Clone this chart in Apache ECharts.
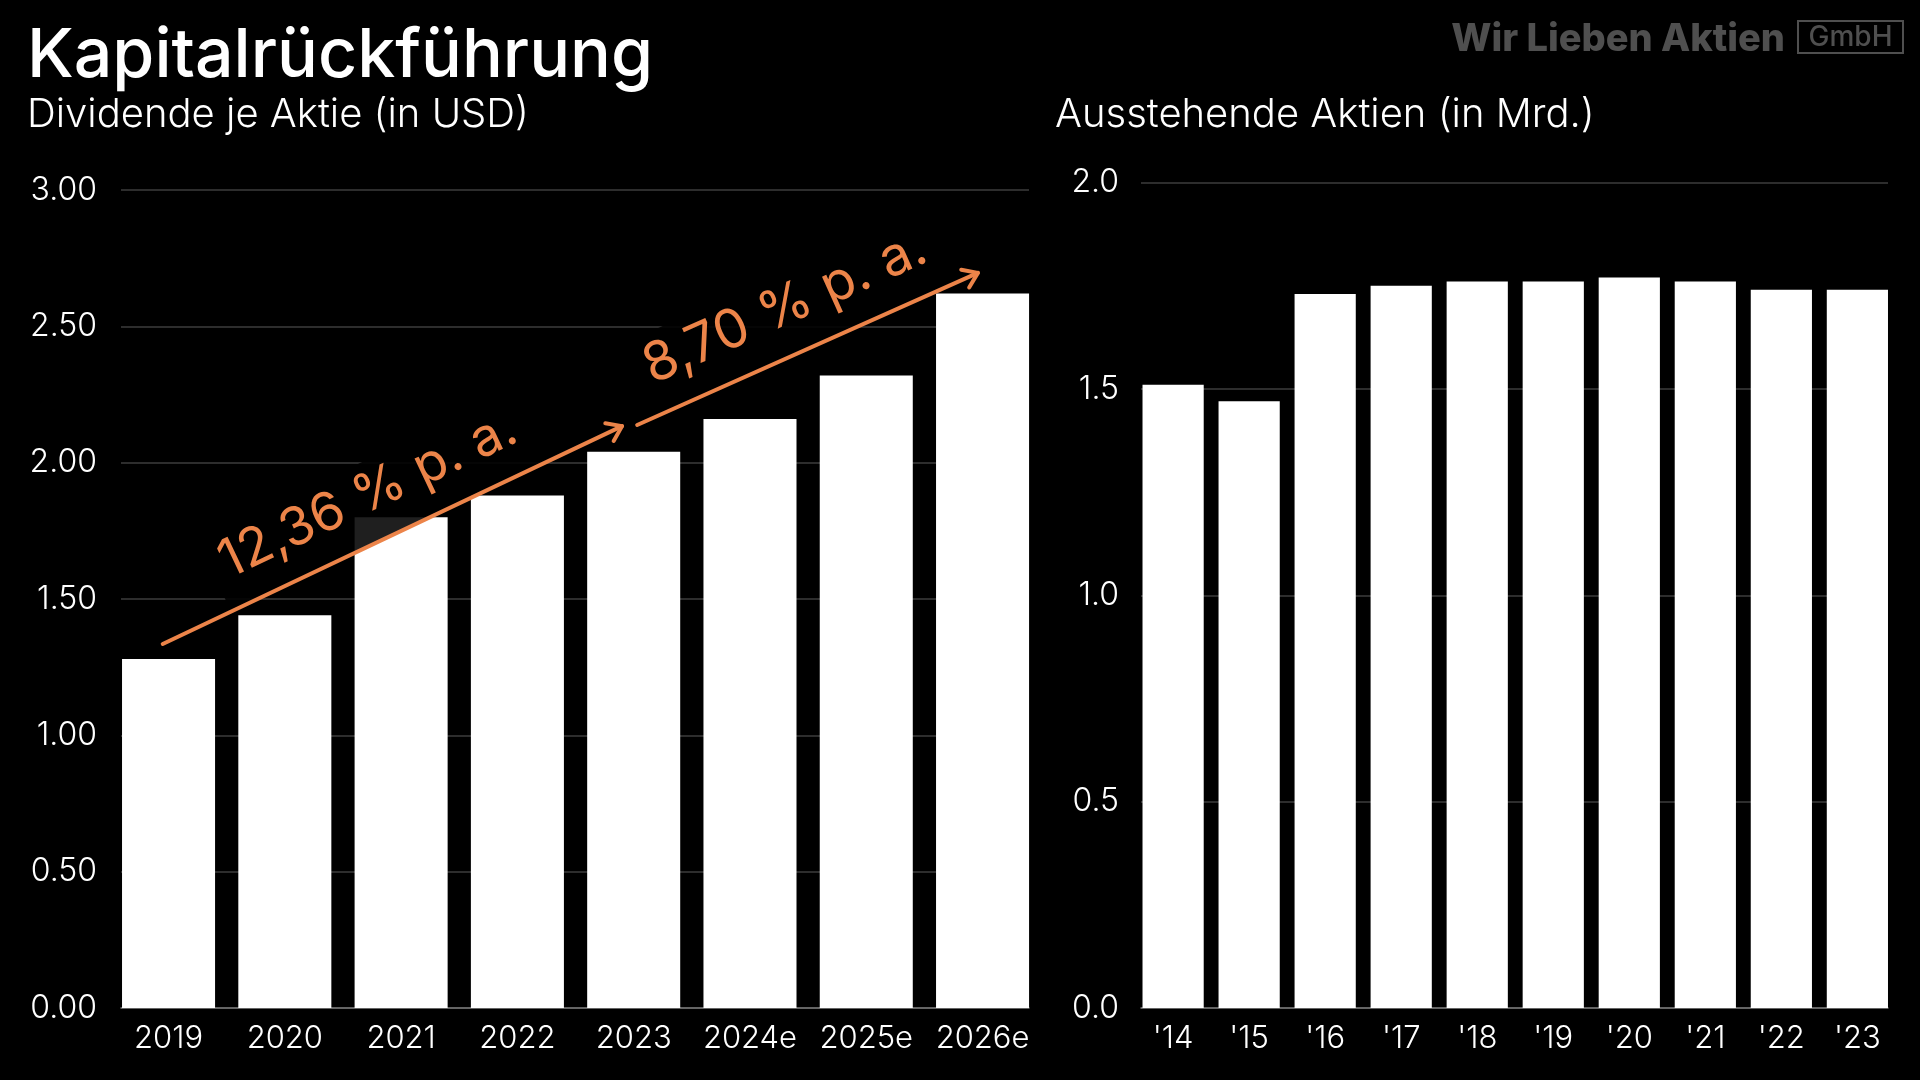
<!DOCTYPE html>
<html><head><meta charset="utf-8">
<script src="https://cdn.jsdelivr.net/npm/echarts@6/dist/echarts.min.js"></script>
<style>html,body{margin:0;padding:0;background:#000;}#c{width:1920px;height:1080px;}</style>
</head><body><div id="c"></div>
<script>
// ---- data ----
const dividendYears = ['2019','2020','2021','2022','2023','2024e','2025e','2026e'];
const dividendPerShare = [1.28,1.44,1.80,1.88,2.04,2.16,2.32,2.62];
const shareYears = ["'14","'15","'16","'17","'18","'19","'20","'21","'22","'23"];
const sharesOutstanding = [1.51,1.47,1.73,1.75,1.76,1.76,1.77,1.76,1.74,1.74];
const growthLabels = ['12,36 % p. a.','8,70 % p. a.'];
// arrow ends in data terms: [category index, offset in category widths, value]
const growthFrom = [[0,-0.05,1.335],[4,0.03,2.138]];
const growthTo   = [[4,-0.10,2.134],[7,-0.04,2.696]];

const FONT = 'Inter';
const ORANGE = '#EC8449';
const GRID_C = '#3c3c3c';
const AXIS_C = '#777';

const chart = echarts.init(document.getElementById('c'), null, {renderer:'canvas'});

const labelStyle = {color:'#fff', fontFamily:FONT, fontWeight:300};

const option = {
  backgroundColor:'#000',
  animation:false,
  grid:[
    {left:121, top:190, width:908, height:818},
    {left:110.4, top:190, width:930.3, height:818},
    {left:1141, top:182.5, width:747, height:825.5},
    {left:1135.1, top:182.5, width:760.3, height:825.5}
  ],
  xAxis:[
    {gridIndex:0, type:'category', data:dividendYears, axisTick:{show:false}, axisLabel:{show:false},
     axisLine:{lineStyle:{color:AXIS_C, width:1.5}}},
    {gridIndex:1, type:'category', data:dividendYears, axisTick:{show:false}, axisLine:{show:false},
     axisLabel:Object.assign({margin:15, interval:0, hideOverlap:false}, labelStyle, {fontSize:31})},
    {gridIndex:2, type:'category', data:shareYears, axisTick:{show:false}, axisLabel:{show:false},
     axisLine:{lineStyle:{color:AXIS_C, width:1.5}}},
    {gridIndex:3, type:'category', data:shareYears, axisTick:{show:false}, axisLine:{show:false},
     axisLabel:Object.assign({margin:15, interval:0, hideOverlap:false}, labelStyle, {fontSize:31})}
  ],
  yAxis:[
    {gridIndex:0, type:'value', min:0, max:3, interval:0.5,
     axisLabel:Object.assign({margin:24, formatter:v=>v.toFixed(2)}, labelStyle, {fontSize:32}),
     splitLine:{lineStyle:{color:GRID_C, width:1.5}}, axisLine:{show:false}, axisTick:{show:false}},
    {gridIndex:1, type:'value', min:0, max:3, interval:0.5, show:false, splitLine:{show:false}},
    {gridIndex:2, type:'value', min:0, max:2, interval:0.5,
     axisLabel:Object.assign({margin:22, formatter:v=>v.toFixed(1)}, labelStyle, {fontSize:32}),
     splitLine:{lineStyle:{color:GRID_C, width:1.5}}, axisLine:{show:false}, axisTick:{show:false}},
    {gridIndex:3, type:'value', min:0, max:2, interval:0.5, show:false, splitLine:{show:false}}
  ],
  series:[
    {type:'bar', xAxisIndex:1, yAxisIndex:1, data:dividendPerShare, barCategoryGap:'20%',
     itemStyle:{color:'#fff'}, z:5},
    {type:'bar', xAxisIndex:3, yAxisIndex:3, data:sharesOutstanding, barCategoryGap:'19.5%',
     itemStyle:{color:'#fff'}, z:5}
  ]
};
chart.setOption(option);

function toPx(p){
  const a = chart.convertToPixel({seriesIndex:0}, [p[0], p[2]]);
  const b = chart.convertToPixel({seriesIndex:0}, [p[0]+1, p[2]]);
  return [a[0] + p[1]*(b[0]-a[0]), a[1]];
}

const graphics = [
  {type:'text', x:27, y:57, z:100, style:{text:'Kapitalrückführung', fill:'#fff', fontFamily:FONT, fontWeight:500, fontSize:68, verticalAlign:'middle'}},
  {type:'text', x:27, y:114.5, z:100, style:{text:'Dividende je Aktie (in USD)', fill:'#fff', fontFamily:FONT, fontWeight:300, fontSize:40, verticalAlign:'middle'}},
  {type:'text', x:1055, y:114.5, z:100, style:{text:'Ausstehende Aktien (in Mrd.)', fill:'#fff', fontFamily:FONT, fontWeight:300, fontSize:40, verticalAlign:'middle'}},
  {type:'text', x:1785, y:40, z:100, style:{text:'Wir Lieben Aktien', fill:'#4f4f4f', fontFamily:FONT, fontWeight:800, fontSize:38, align:'right', verticalAlign:'middle'}},
  {type:'rect', z:100, shape:{x:1798, y:21, width:105, height:32}, style:{fill:'none', stroke:'#4f4f4f', lineWidth:2}},
  {type:'text', x:1850.5, y:37.5, z:100, style:{text:'GmbH', fill:'#4f4f4f', fontFamily:FONT, fontWeight:500, fontSize:28, align:'center', verticalAlign:'middle'}}
];

const labelFrac = [0.49, 0.49];
for (let i=0;i<growthLabels.length;i++){
  const s = toPx(growthFrom[i]), e = toPx(growthTo[i]);
  const dx = e[0]-s[0], dy = e[1]-s[1];
  const len = Math.hypot(dx,dy);
  const ux = dx/len, uy = dy/len;
  const ang = Math.atan2(-dy, dx);
  const ax = s[0] + dx*labelFrac[i], ay = s[1] + dy*labelFrac[i];
  graphics.push({type:'text', x:ax, y:ay, rotation:ang, z:110,
    style:{text:growthLabels[i], fill:ORANGE, fontFamily:FONT, fontWeight:400, fontSize:i===0?53:54,
      align:'center', verticalAlign:'bottom', backgroundColor:'rgba(0,0,0,0.88)', padding:[6,12,20,12]}});
  graphics.push({type:'line', z:120, shape:{x1:s[0], y1:s[1], x2:e[0], y2:e[1]},
    style:{stroke:ORANGE, lineWidth:4, lineCap:'round'}});
  const hl = 17, ha = 35*Math.PI/180;
  const bx = -ux, by = -uy;
  const l1 = [e[0] + hl*(bx*Math.cos(ha) - by*Math.sin(ha)), e[1] + hl*(bx*Math.sin(ha) + by*Math.cos(ha))];
  const l2 = [e[0] + hl*(bx*Math.cos(-ha) - by*Math.sin(-ha)), e[1] + hl*(bx*Math.sin(-ha) + by*Math.cos(-ha))];
  graphics.push({type:'polyline', z:120, shape:{points:[l1, e, l2]},
    style:{stroke:ORANGE, lineWidth:4, lineCap:'round', lineJoin:'round', fill:'none'}});
}
chart.setOption({graphic:graphics});
</script></body></html>
